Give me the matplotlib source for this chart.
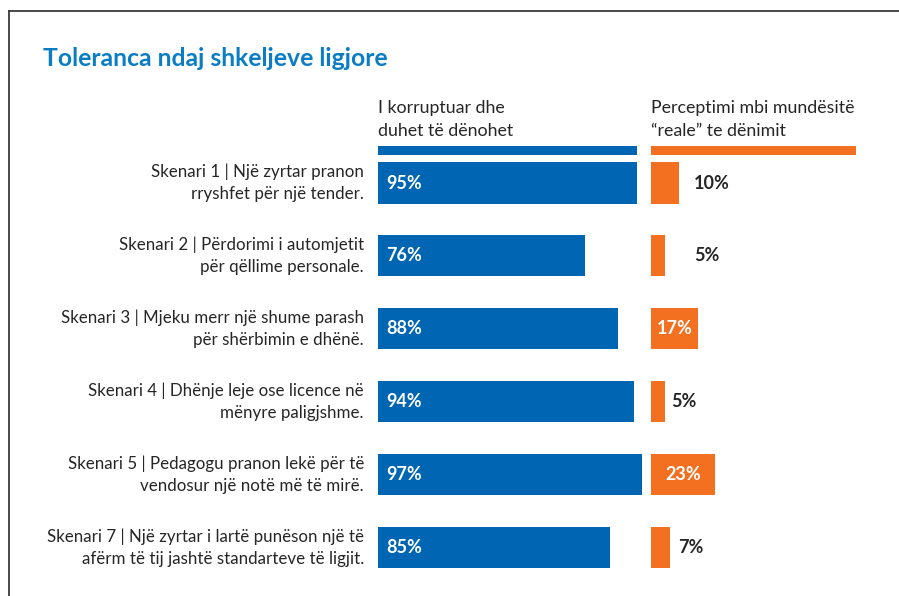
import matplotlib.pyplot as plt
from matplotlib.patches import Rectangle
from matplotlib.lines import Line2D

plt.rcParams['font.family'] = ['Lato', 'DejaVu Sans']

scenarios = [
    "Skenari 1 | Një zyrtar pranon\nrryshfet për një tender.",
    "Skenari 2 | Përdorimi i automjetit\npër qëllime personale.",
    "Skenari 3 | Mjeku merr një shume parash\npër shërbimin e dhënë.",
    "Skenari 4 | Dhënje leje ose licence në\nmënyre paligjshme.",
    "Skenari 5 | Pedagogu pranon lekë për të\nvendosur një notë më të mirë.",
    "Skenari 7 | Një zyrtar i lartë punëson një të\nafërm të tij jashtë standarteve të ligjit.",
]
corrupt_pct = [95, 76, 88, 94, 97, 85]
real_pct = [10, 5, 17, 5, 23, 7]

title = "Toleranca ndaj shkeljeve ligjore"
head_left = "I korruptuar dhe\nduhet të dënohet"
head_right = "Perceptimi mbi mundësitë\n“reale” te dënimit"

BLUE = '#0066b3'
ORANGE = '#f37021'
TITLE_BLUE = '#0a7dc4'
DARK = '#262626'

W, H = 899, 596
fig = plt.figure(figsize=(W / 100, H / 100), dpi=100)

def box(x0, y0, w, h):
    # pixel box (top-left origin) -> figure fraction
    return [x0 / W, 1 - (y0 + h) / H, w / W, h / H]

top, bottom = 146.55, 583.95
ax1 = fig.add_axes(box(378, top, 272.6, bottom - top))
ax2 = fig.add_axes(box(651, top, 278, bottom - top))

n = len(scenarios)
rows = list(range(n))
for ax in (ax1, ax2):
    ax.set_xlim(0, 100)
    ax.set_ylim(n - 0.5, -0.5)
    ax.axis('off')

ax1.barh(rows, corrupt_pct, height=0.5625, color=BLUE)
ax2.barh(rows, real_pct, height=0.5625, color=ORANGE)

px = 0.72  # points per pixel
for i, (lab, v) in enumerate(zip(scenarios, corrupt_pct)):
    ax1.annotate(lab, xy=(0, i), xytext=(-14 * px, 0), textcoords='offset points',
                 ha='right', va='center', fontsize=12.2, color=DARK,
                 multialignment='right', linespacing=1.45)
    ax1.annotate(f"{v}%", xy=(0, i), xytext=(8 * px, 0), textcoords='offset points',
                 ha='left', va='center', fontsize=13, fontweight='bold', color='white')

real_pad = [15, 29, 0, 6, 0, 8]
for i, v in enumerate(real_pct):
    if v >= 15:
        ax2.text(v / 2, i, f"{v}%", ha='center', va='center', fontsize=13,
                 fontweight='bold', color='white')
    else:
        ax2.annotate(f"{v}%", xy=(v, i), xytext=(real_pad[i] * px, 0),
                     textcoords='offset points', ha='left', va='center',
                     fontsize=13, fontweight='bold', color=DARK)

# header underline bars
fig.add_artist(Rectangle((378 / W, 1 - 154.5 / H), 259 / W, 8.5 / H,
                         transform=fig.transFigure, color=BLUE, lw=0))
fig.add_artist(Rectangle((651 / W, 1 - 155 / H), 205 / W, 8.5 / H,
                         transform=fig.transFigure, color=ORANGE, lw=0))

fig.text(378 / W, 1 - 119.5 / H, head_left, ha='left', va='center',
         fontsize=12.8, color=DARK, linespacing=1.5)
fig.text(651 / W, 1 - 119.5 / H, head_right, ha='left', va='center',
         fontsize=12.8, color=DARK, linespacing=1.5)

fig.text(43 / W, 1 - 58 / H, title, ha='left', va='center',
         fontsize=17.8, fontweight='bold', color=TITLE_BLUE)

# frame around the panel
fig.add_artist(Line2D([8.5 / W, 8.5 / W], [0, 1 - 11 / H], transform=fig.transFigure,
                      color='#3a3a3a', lw=1.3))
fig.add_artist(Line2D([8.5 / W, 1], [1 - 11 / H, 1 - 11 / H], transform=fig.transFigure,
                      color='#3a3a3a', lw=1.3))

fig.savefig('out.png', dpi=100)
